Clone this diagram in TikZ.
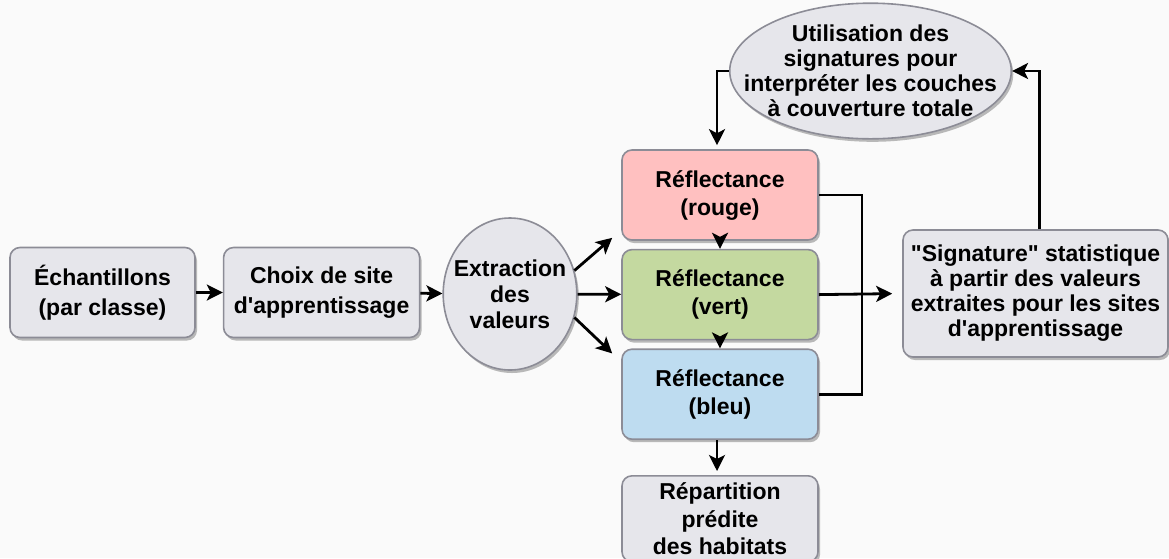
\documentclass[tikz,border=0pt]{standalone}
\usepackage{fontspec}
\setmainfont{Liberation Sans}
\usetikzlibrary{arrows.meta,positioning,shapes.geometric,shadows}
\definecolor{boxgray}{RGB}{230,230,235}
\definecolor{edge}{RGB}{140,140,150}
\definecolor{redfill}{RGB}{255,192,192}
\definecolor{greenfill}{RGB}{196,217,160}
\definecolor{bluefill}{RGB}{190,220,240}
\definecolor{bg}{RGB}{250,250,250}

\begin{document}
\begin{tikzpicture}[x=1pt,y=-1pt,font=\bfseries\fontsize{23}{28}\selectfont,
  box/.style={draw=edge,line width=1.6pt,rounded corners=10pt,align=center,fill=boxgray,inner sep=0pt,minimum width=196pt,minimum height=90pt,drop shadow={shadow xshift=2pt,shadow yshift=-3pt,fill=black!45,opacity=.6}},
  oval/.style={ellipse,draw=edge,line width=1.6pt,align=center,fill=boxgray,drop shadow={shadow xshift=2pt,shadow yshift=-3pt,fill=black!45,opacity=.6}},
  flow/.style={-{Stealth[length=16pt,width=16pt,inset=4pt]},line width=2.8pt},
  link/.style={line width=2.8pt}]
\fill[bg] (0,0) rectangle (1169,558);
\useasboundingbox (0,0) rectangle (1169,558);
\node[box,minimum width=185pt,font=\bfseries\fontsize{23}{30}\selectfont] (ech) at (102.5,292.5) {Échantillons\\(par classe)};
\node[box,right=27pt of ech,font=\bfseries\fontsize{23}{30}\selectfont] (choix) {Choix de site\\d\textquotesingle apprentissage};
\node[oval,inner xsep=-9pt,inner ysep=0pt,minimum height=152pt,font=\bfseries\fontsize{23}{26}\selectfont] (extr) at (510,294) {Extraction\\des\\valeurs};
\node[box,fill=redfill] (rouge) at (720,195) {Réflectance\\(rouge)};
\node[box,fill=greenfill,below=8pt of rouge] (vert) {Réflectance\\(vert)};
\node[box,fill=bluefill,below=8pt of vert] (bleu) {Réflectance\\(bleu)};
\node[box,below=35pt of bleu,minimum height=86pt,font=\bfseries\fontsize{23}{27.5}\selectfont] (rep) {Répartition\\prédite\\des habitats};
\node[box,minimum width=265pt,minimum height=127pt,font=\bfseries\fontsize{23}{25}\selectfont] (sig) at (1035.5,293.5) {\textquotedbl Signature\textquotedbl{} statistique\\à partir des valeurs\\extraites pour les sites\\d\textquotesingle apprentissage};
\node[oval,inner xsep=-27pt,inner ysep=2pt,font=\bfseries\fontsize{23}{25}\selectfont] (util) at (870.5,71) {Utilisation des\\signatures pour\\interpréter les couches\\à couverture totale};
\coordinate (bus) at (862,292.5);
% chain of steps
\foreach \s/\t in {ech/choix,choix/extr,extr/vert,rouge/vert,vert/bleu}\draw[flow] (\s)--(\t);
\draw[flow] (extr.20)--([xshift=-9pt,yshift=3pt]rouge.south west);
\draw[flow] (extr.-20)--([xshift=-9pt,yshift=-5pt]bleu.north west);
\draw[flow,shorten >=4pt] ([xshift=-3pt]bleu.south)--([xshift=-3pt]rep.north);
\draw[link] (rouge.east)-|(bus)|-(bleu.east);
\draw[flow,shorten >=10pt] (vert.east)--(sig.west);
\draw[flow] ([xshift=4pt]sig.north)|-(util.east);
\draw[flow,shorten >=4pt] (util.west)-|([xshift=-3pt]rouge.north);
\end{tikzpicture}
\end{document}
